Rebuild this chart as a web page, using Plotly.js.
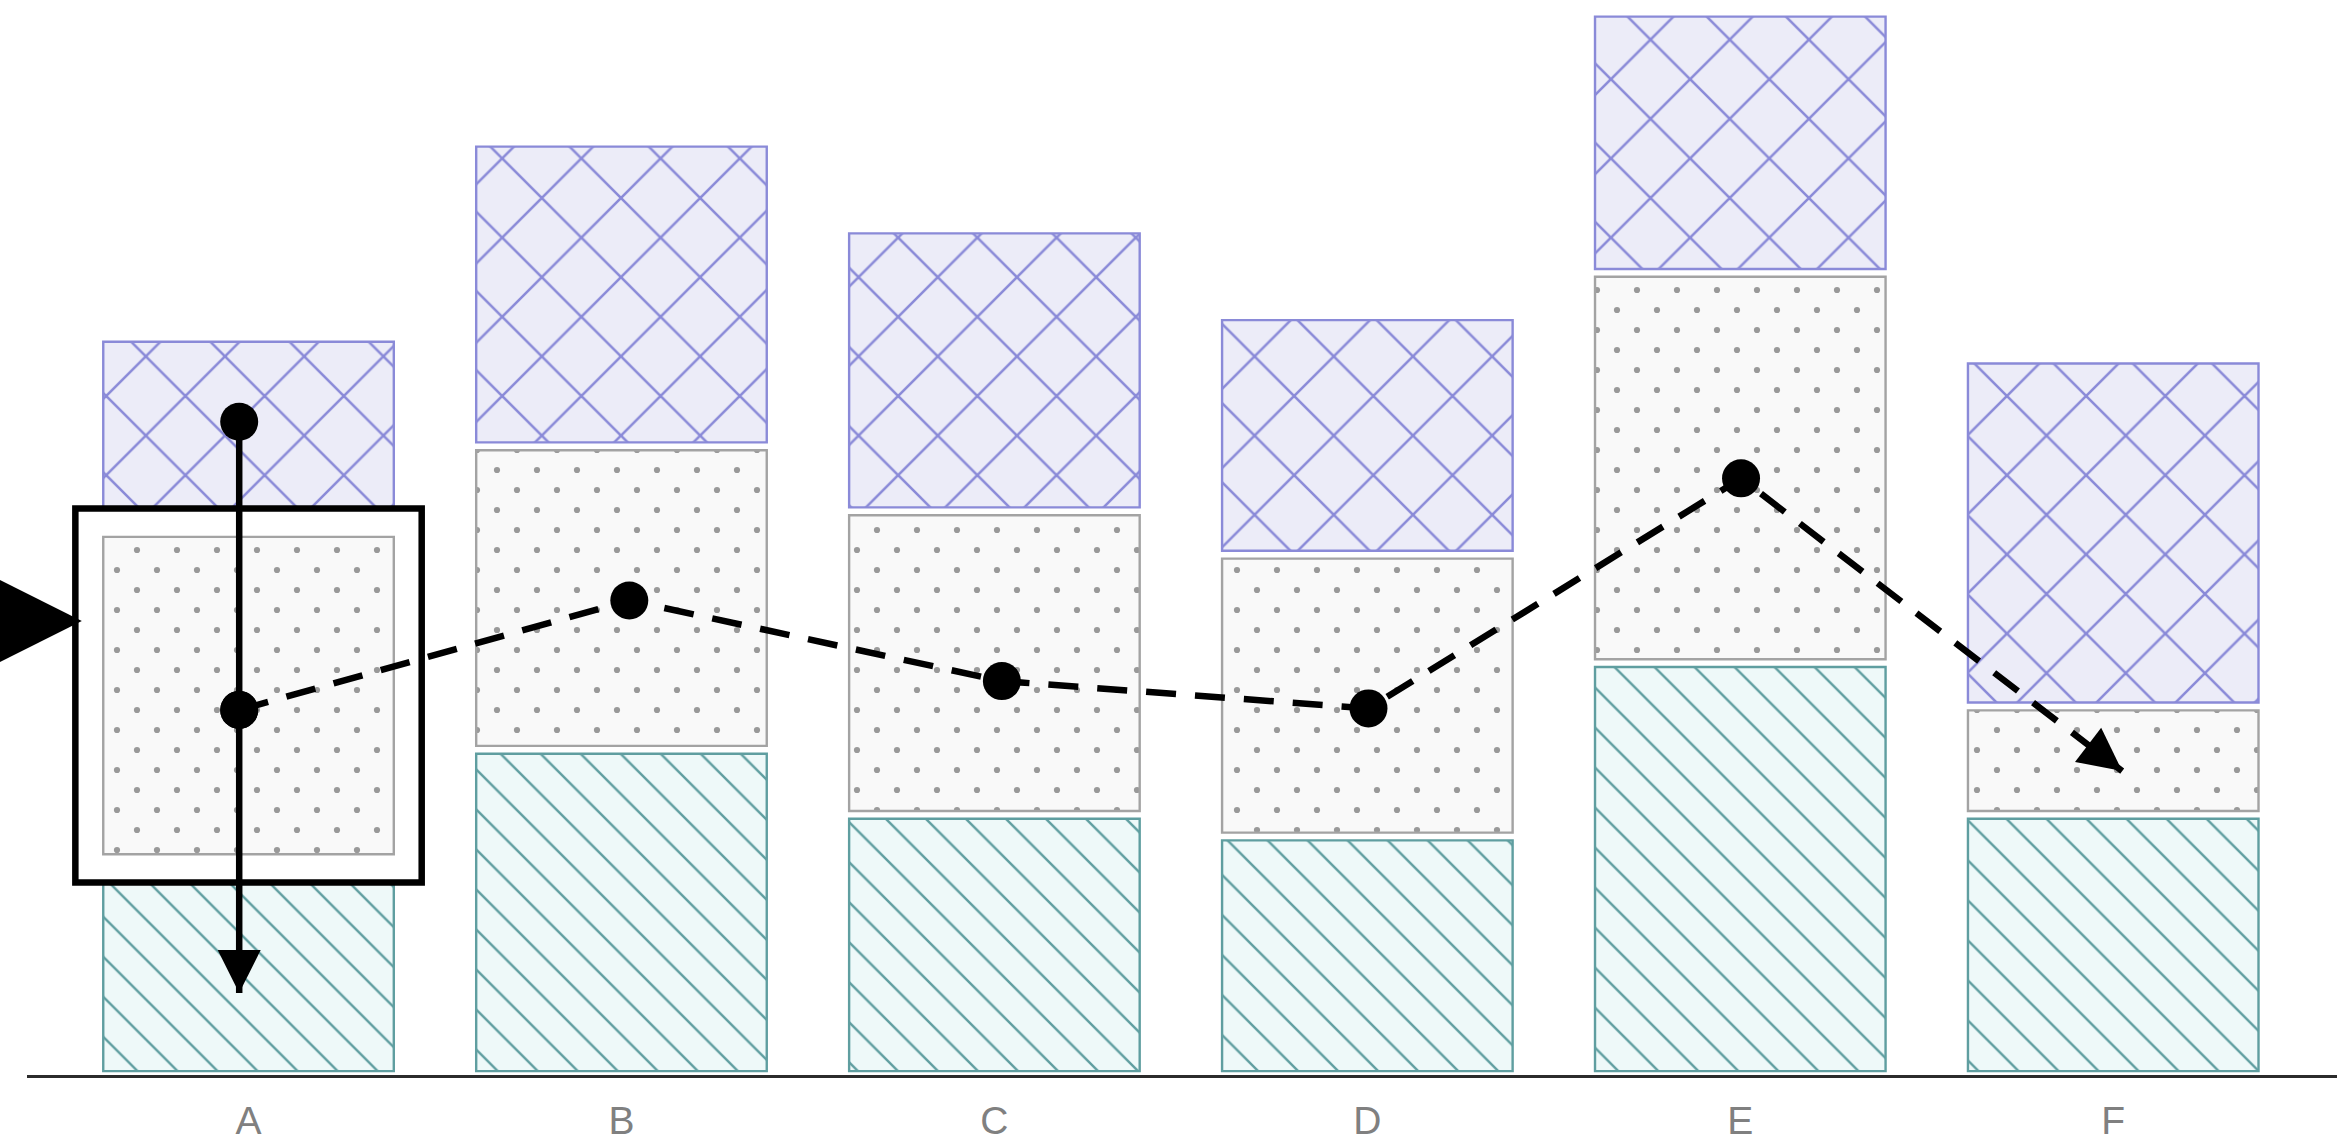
<!DOCTYPE html>
<html>
<head>
<meta charset="utf-8">
<script src="https://cdn.plot.ly/plotly-3.0.1.min.js"></script>
<style>
  html, body { margin: 0; padding: 0; background: #ffffff; }
  #chart { width: 2337px; height: 1142px; }
</style>
</head>
<body>
<div id="chart"></div>
<script>
// ---------------- data ----------------
const categories = ['A', 'B', 'C', 'D', 'E', 'F'];
const bottomValues = [10, 15, 12, 11, 19, 12];
const middleValues = [15, 14, 14, 13, 18, 5];
const topValues = [9, 14, 13, 11, 12, 16];
const highlightedCategory = 'A';          // middle segment of this bar is boxed

// vertical arrow inside A (top dot -> middle dot -> arrow head)
const arrowX = [-0.025, -0.025, -0.025];
const arrowY = [30.13, 16.84, 3.78];

// dashed trend line across the middle segments, ending in an arrow
const trendX = [-0.025, 1.021, 2.020, 3.003, 4.002, 5.024];
const trendY = [16.84, 21.89, 18.17, 16.91, 27.52, 14.02];

// big pointer triangle on the left (tip position)
const pointerX = [-0.447];
const pointerY = [20.94];

// ---------------- layout geometry ----------------
const W = 2337, H = 1142;
const margin = {l: 27, r: 0, t: 0, b: 67, pad: 0};
const xRange = [-0.594, 5.6];
const yRange = [0, 49.585];
const plotW = W - margin.l - margin.r;
const plotH = H - margin.t - margin.b;
const ux = plotW / (xRange[1] - xRange[0]);   // px per x unit
const uy = plotH / (yRange[1] - yRange[0]);   // px per y unit

const borderW = 2.4;       // segment outline width (px)
const gapPx = 2.7;         // visible white inset around each segment (px)
const insetY = (gapPx + borderW / 2) / uy;
const insetX = (gapPx + borderW / 2) / ux;
const barWidth = 0.8 - 2 * insetX;
const boxPadX = 24 / ux;
const boxPadY = 24.4 / uy;

const xIdx = categories.map((_, i) => i);
const hi = categories.indexOf(highlightedCategory);

const series = [bottomValues, middleValues, topValues];
const styles = [
  {shape: '\\', fg: '#5f9ea0', bg: '#eef9f9', line: '#5f9ea0', size: 28.3, solidity: 0.085},
  {shape: '.',  fg: '#999999', bg: '#f9f9f9', line: '#a3a3a3', size: 28.3, solidity: 0.035},
  {shape: 'x',  fg: '#8a8ad8', bg: '#ececf8', line: '#8a8ad8', size: 56, solidity: 0.09}
];

// cumulative stack bounds
const lows = series.map(() => []);
const highs = series.map(() => []);
xIdx.forEach(i => {
  let cum = 0;
  series.forEach((vals, s) => {
    lows[s][i] = cum;
    highs[s][i] = cum + vals[i];
    cum += vals[i];
  });
});

const boxY0 = lows[1][hi] - boxPadY;
const boxY1 = highs[1][hi] + boxPadY;

const traces = [];
series.forEach((vals, s) => {
  const bases = [], heights = [];
  xIdx.forEach(i => {
    let b = lows[s][i] + insetY;
    let t = highs[s][i] - insetY;
    if (i === hi && s === 0) t = boxY0;   // runs under the box outline
    if (i === hi && s === 2) b = boxY1;
    bases.push(b);
    heights.push(t - b);
  });
  const st = styles[s];
  traces.push({
    type: 'bar',
    x: xIdx,
    y: heights,
    base: bases,
    width: barWidth,
    marker: {
      color: st.bg,
      line: {color: st.line, width: borderW},
      pattern: {shape: st.shape, fgcolor: st.fg, bgcolor: st.bg, fgopacity: 1,
                size: st.size, solidity: st.solidity}
    },
    hoverinfo: 'skip',
    showlegend: false
  });
});

const lineW = 6.5;
const dotSize = 38;
const headBackoff = 30;   // px the line stops short of an arrow tip

traces.push({
  type: 'scatter',
  mode: 'lines+markers',
  x: arrowX, y: arrowY,
  line: {color: '#000000', width: lineW,
         backoff: arrowX.map((_, i) => i === arrowX.length - 1 ? headBackoff : 0)},
  marker: {color: '#000000', opacity: 1,
           size: arrowX.map((_, i) => i === arrowX.length - 1 ? 0 : dotSize), line: {width: 0}},
  cliponaxis: false, hoverinfo: 'skip', showlegend: false
});

traces.push({
  type: 'scatter',
  mode: 'lines+markers',
  x: trendX, y: trendY,
  line: {color: '#000000', width: lineW, dash: '30px,19px',
         backoff: trendX.map((_, i) => i === trendX.length - 1 ? headBackoff : 0)},
  marker: {color: '#000000', opacity: 1,
           size: trendX.map((_, i) => i === trendX.length - 1 ? 0 : dotSize), line: {width: 0}},
  cliponaxis: false, hoverinfo: 'skip', showlegend: false
});

// arrow heads: annotation heads whose tip sits on the data point,
// with a short tail lying along the incoming segment
function arrowHead(tipX, tipY, prevX, prevY, tailPx, scale) {
  const dx = (tipX - prevX) * ux, dy = (tipY - prevY) * uy;
  const f = tailPx / Math.hypot(dx, dy);
  return {
    x: tipX, y: tipY, xref: 'x', yref: 'y',
    ax: tipX - (tipX - prevX) * f, ay: tipY - (tipY - prevY) * f,
    axref: 'x', ayref: 'y',
    text: '', showarrow: true, arrowhead: 2,
    arrowwidth: lineW, arrowsize: scale / lineW, arrowcolor: '#000000', standoff: 0
  };
}
const nA = arrowX.length - 1, nT = trendX.length - 1;
const annotations = [
  arrowHead(arrowX[nA], arrowY[nA], arrowX[nA - 1], arrowY[nA - 1], 38, 8.6),
  arrowHead(trendX[nT], trendY[nT], trendX[nT - 1], trendY[nT - 1], 38, 8.6),
  arrowHead(pointerX[0], pointerY[0], pointerX[0] - 1, pointerY[0], 40, 19.5)
];

const layout = {
  width: W, height: H,
  margin: margin,
  paper_bgcolor: '#ffffff',
  plot_bgcolor: '#ffffff',
  barmode: 'overlay',
  showlegend: false,
  hovermode: false,
  font: {family: 'Liberation Sans, Arial, sans-serif'},
  xaxis: {
    range: xRange,
    tickmode: 'array', tickvals: xIdx, ticktext: categories,
    tickfont: {family: 'Liberation Sans, Arial, sans-serif', size: 39, color: '#808080'},
    ticklabelstandoff: 9,
    showline: true, linecolor: '#2b2b2b', linewidth: 3,
    ticks: '', showgrid: false, zeroline: false, fixedrange: true
  },
  yaxis: {
    range: yRange,
    showticklabels: false, showgrid: false, zeroline: false, showline: false,
    ticks: '', fixedrange: true
  },
  annotations: annotations,
  shapes: [{
    type: 'rect', xref: 'x', yref: 'y', layer: 'above',
    x0: hi - 0.4 - boxPadX, x1: hi + 0.4 + boxPadX,
    y0: boxY0, y1: boxY1,
    line: {color: '#000000', width: lineW},
    fillcolor: 'rgba(0,0,0,0)'
  }]
};

Plotly.newPlot('chart', traces, layout, {displayModeBar: false, staticPlot: true}).then(gd => {
  // staggered dot lattice for the dotted pattern
  gd.querySelectorAll('defs pattern').forEach(p => {
    const c = p.querySelector('circle');
    if (!c) return;
    const s = 40;
    p.setAttribute('width', s);
    p.setAttribute('height', s);
    p.querySelectorAll('rect').forEach(r => { r.setAttribute('width', s); r.setAttribute('height', s); });
    c.setAttribute('cx', s / 4); c.setAttribute('cy', s / 4); c.setAttribute('r', 3.1);
    const c2 = c.cloneNode(true);
    c2.setAttribute('cx', 3 * s / 4); c2.setAttribute('cy', 3 * s / 4);
    p.appendChild(c2);
  });
});
</script>
</body>
</html>
